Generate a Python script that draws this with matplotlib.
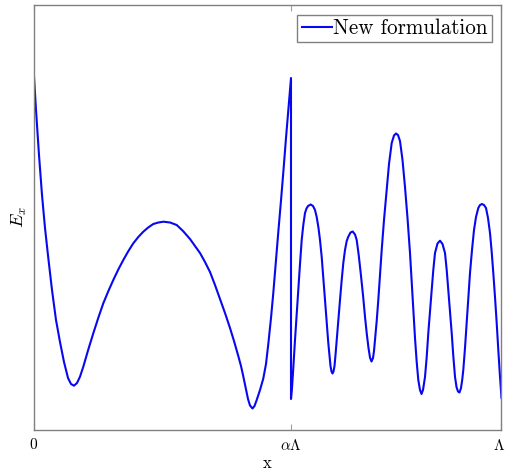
import matplotlib
matplotlib.use("Agg")
import matplotlib.pyplot as plt
from matplotlib.transforms import ScaledTranslation

plt.rcParams["font.family"] = ["cmr10", "DejaVu Serif"]
plt.rcParams["mathtext.fontset"] = "cm"
plt.rcParams["axes.unicode_minus"] = False
plt.rcParams["axes.formatter.use_mathtext"] = True

# Cell geometry (arbitrary length units): period Lambda, interface at alpha*Lambda
Lambda = 468.0
alpha_Lambda = 257.5

# Sample positions along the cell
x_pos = [
    0, 2.5, 5.5, 8.5, 11.5, 14.8, 18.5, 22.5, 26.5, 30.5, 34.5, 37.5, 40.5,
    43.5, 46.5, 49.8, 54.8, 59.8, 64.8, 69.8, 74.8, 79.8, 84.8, 89.8, 94.8,
    99.8, 104.8, 109.8, 114.8, 119.8, 124.9, 130, 136.5, 143.2, 149.5, 156.5,
    161.5, 166.5, 171.5, 176.5, 181.5, 186.5, 191.5, 196.5, 200.5, 204.5,
    207.5, 209.5, 212, 214.5, 216.5, 219, 221, 223.2, 226.5, 229.8, 232.5,
    234.8, 237.5, 239.8, 242.5, 244.8, 247.5, 250, 252.5, 254.8, 256.2,
    257.5,
    257.5, 258.5, 259.8, 261.5, 263.2, 264.8, 266.5, 268.2, 269.8, 271.5, 273,
    274.5, 277.2, 279.5, 281.5, 283.2, 285, 286.5, 288.2, 289.8, 291.5, 293.2,
    294.8, 296, 297, 298, 299, 300, 301, 302, 303.2, 304.8, 306.5, 308.2,
    309.8, 311.5, 313.2, 314.8, 317, 319.2, 321.5, 323.2, 325.2, 327.2, 329.5,
    331.5, 333.3, 335, 336.5, 338, 339.5, 340.5, 341.5, 343.2, 344.8, 346.5,
    348.2, 350.5, 353.2, 355.5, 358.2, 360.5, 362.5, 364.5, 366.5, 369, 371.5,
    374, 376.5, 379, 381.5, 383.2, 384.8, 386.5, 388, 389.5, 391.5, 393.2,
    394.8, 396.5, 398.2, 399.8, 401.5, 404, 406.5, 409, 411.5, 413.2, 414.8,
    416.5, 418.2, 419.8, 421.5, 423, 424.5, 426, 427.5, 428.7, 429.8, 431.5,
    433.2, 434.8, 436.5, 438.5, 440.5, 442.5, 444.8, 446.5, 448.5, 450.5,
    452.5, 454.5, 456.5, 458.2, 459.8, 461.5, 463.2, 464.8, 466.5, 468,
]

# Field amplitude E_x at those positions (arbitrary units)
e_x = [
    362, 320, 275, 235, 202, 172, 140, 110, 88, 68, 52, 46, 44.3,
    47, 53.3, 63.3, 80.5, 96.7, 112.2, 126.7, 138.8, 150, 160.5, 170, 178.8,
    186.7, 193, 198.3, 202.6, 206, 207.5, 208.3, 207.5, 205, 199, 191,
    184, 177, 168, 158, 145, 131, 117, 102, 89, 75,
    64, 55, 43, 31, 24.5, 21.5, 24, 30, 40, 51.5, 66,
    86, 112, 137, 170, 198, 229.5, 260, 292, 320,
    337, 352,
    31, 42, 62, 90, 116, 140, 166, 190, 205, 217, 221.5,
    224, 225.5, 224, 220, 213, 202, 190, 173, 152, 130, 108,
    87, 74, 64, 58.5, 56.5, 58.5, 64, 75, 90, 110, 130, 150,
    167, 180, 189, 193.3, 197.5, 198.5, 195.5, 190, 175, 157, 135,
    113.3, 96, 82, 72.5, 68.5, 72, 79, 90, 109, 130, 155,
    180, 210, 240, 266, 287, 294.5, 296.5, 295, 289, 270, 243,
    212, 177, 135, 92, 68, 50, 40, 36, 40, 53, 73,
    97, 119, 140, 160, 177, 186.5, 189.3, 186, 177, 160, 140,
    119, 97, 74, 53.3, 43, 38.5, 37.5, 42, 50, 60, 82,
    107, 132, 157, 180, 200, 213, 222, 225, 226, 225,
    222, 212, 197, 178, 157, 133, 107, 80, 53.3, 32,
]

tick_pos = [0.0, alpha_Lambda, Lambda]
tick_labels = ["0", r"$\alpha\Lambda$", r"$\Lambda$"]

fig = plt.figure(figsize=(5.06, 4.72), dpi=100)
ax = fig.add_axes([33.5 / 506, 42 / 472, 468 / 506, 425 / 472])

ax.plot(x_pos, e_x, color="#0808f0", lw=1.5, label="New formulation",
        solid_joinstyle="round")

ax.set_xlim(0, Lambda)
ax.set_ylim(0, 425)
ax.set_xticks(tick_pos)
ax.set_xticklabels(tick_labels, fontsize=11)
ax.set_yticks([])
ax.tick_params(axis="x", direction="in", length=4, color="#a0a0a0",
               top=True, pad=6)

# nudge the last tick label so it stays inside the canvas
last = ax.get_xticklabels()[-1]
last.set_transform(last.get_transform() +
                   ScaledTranslation(-2 / 100, 0, fig.dpi_scale_trans))

for sp in ax.spines.values():
    sp.set_color("#808080")
    sp.set_linewidth(1.0)

ax.set_xlabel("x", fontsize=12, labelpad=1.5)
ax.set_ylabel(r"$E_x$", fontsize=13, labelpad=3)

leg = ax.legend(loc="upper right", fontsize=15.2, fancybox=False,
                edgecolor="#808080", framealpha=1, handlelength=1.45,
                handletextpad=0.05, borderpad=0.2, borderaxespad=0.45)
leg.get_frame().set_linewidth(1.0)

fig.savefig("out.png", dpi=100)
